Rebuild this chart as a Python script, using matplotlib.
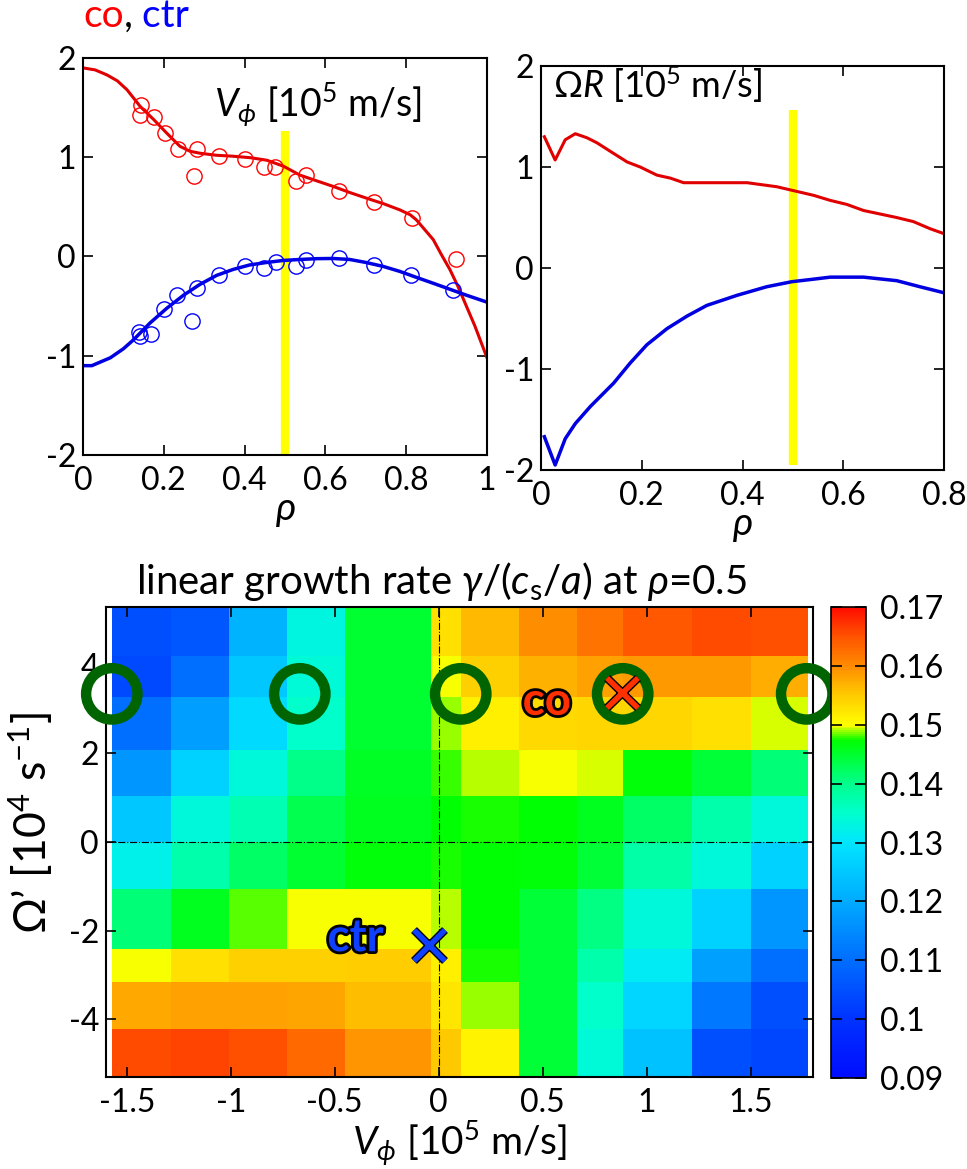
import numpy as np
import matplotlib
matplotlib.use('Agg')
from matplotlib import pyplot as plt
from matplotlib.colors import LinearSegmentedColormap
import matplotlib.patheffects as pe

plt.rcParams['font.family'] = ['Lato', 'DejaVu Sans']
plt.rcParams['mathtext.fontset'] = 'custom'
plt.rcParams['mathtext.rm'] = 'Lato'
plt.rcParams['mathtext.it'] = 'Lato:italic'
plt.rcParams['mathtext.bf'] = 'Lato:bold'

# ---- top left: measured V_phi and fits
co_rho = [0.143, 0.142, 0.175, 0.203, 0.234, 0.282, 0.276, 0.336, 0.401, 0.448,
          0.475, 0.527, 0.552, 0.633, 0.720, 0.815, 0.923]
co_v = [1.53, 1.43, 1.41, 1.24, 1.08, 1.08, 0.81, 1.01, 0.98, 0.90,
        0.90, 0.76, 0.82, 0.66, 0.55, 0.39, -0.03]
ctr_rho = [0.138, 0.142, 0.168, 0.201, 0.232, 0.282, 0.269, 0.336, 0.401, 0.449,
           0.477, 0.527, 0.552, 0.633, 0.720, 0.813, 0.916]
ctr_v = [-0.76, -0.80, -0.78, -0.53, -0.39, -0.32, -0.65, -0.19, -0.10, -0.12,
         -0.06, -0.10, -0.04, -0.02, -0.09, -0.19, -0.34]

co_fit_rho = [0.0, 0.03, 0.059, 0.085, 0.109, 0.142, 0.175, 0.208, 0.24, 0.265, 0.29,
              0.33, 0.372, 0.415, 0.455, 0.496, 0.537, 0.58, 0.62, 0.66, 0.70, 0.745,
              0.784, 0.81, 0.825, 0.846, 0.867, 0.887, 0.908, 0.928, 0.949, 0.97, 1.0]
co_fit_v = [1.90, 1.88, 1.83, 1.77, 1.68, 1.51, 1.38, 1.24, 1.11, 1.06, 1.04,
            1.02, 1.01, 0.995, 0.97, 0.91, 0.82, 0.76, 0.705, 0.645, 0.59, 0.53,
            0.47, 0.42, 0.37, 0.27, 0.17, 0.02, -0.13, -0.30, -0.50, -0.70, -1.02]
ctr_fit_rho = [0.0, 0.022, 0.068, 0.1, 0.125, 0.166, 0.208, 0.249, 0.29, 0.331, 0.372,
               0.413, 0.455, 0.496, 0.537, 0.58, 0.619, 0.66, 0.70, 0.743, 0.784,
               0.825, 0.867, 0.908, 0.949, 1.0]
ctr_fit_v = [-1.10, -1.10, -1.02, -0.93, -0.84, -0.67, -0.52, -0.39, -0.28, -0.19, -0.13,
             -0.085, -0.06, -0.04, -0.03, -0.022, -0.02, -0.03, -0.06, -0.10, -0.15,
             -0.21, -0.27, -0.33, -0.39, -0.46]

# ---- top right: Omega R profiles
omr_rho = [0.0066, 0.028, 0.048, 0.068, 0.091, 0.111, 0.144, 0.171, 0.197, 0.23, 0.257,
           0.283, 0.342, 0.409, 0.468, 0.498, 0.541, 0.574, 0.607, 0.64, 0.673, 0.706,
           0.739, 0.772, 0.80]
omr_co = [1.30, 1.07, 1.27, 1.33, 1.29, 1.24, 1.135, 1.05, 1.00, 0.92, 0.89,
          0.845, 0.845, 0.845, 0.805, 0.77, 0.72, 0.67, 0.63, 0.57, 0.535, 0.50,
          0.46, 0.39, 0.34]
omr_rho_ctr = [0.0066, 0.028, 0.048, 0.068, 0.098, 0.144, 0.177, 0.21, 0.25, 0.29, 0.329,
               0.389, 0.448, 0.498, 0.541, 0.574, 0.64, 0.706, 0.752, 0.80]
omr_ctr = [-1.67, -1.95, -1.69, -1.54, -1.37, -1.14, -0.94, -0.76, -0.60, -0.475, -0.37,
           -0.27, -0.185, -0.135, -0.11, -0.09, -0.09, -0.125, -0.185, -0.245]

rho_ref = 0.5

# ---- growth rate scan
vphi_edges = [-1.572, -1.288, -1.01, -0.73, -0.452, -0.038, 0.106, 0.385, 0.663,
              0.885, 1.22, 1.50, 1.774]
omega_edges = [5.28, 4.20, 3.27, 2.08, 1.04, 0.0, -1.06, -2.42, -3.16, -4.22, -5.28]
growth = np.array([
    [0.1050, 0.1060, 0.1215, 0.1330, 0.1450, 0.1530, 0.1565, 0.1600, 0.1620, 0.1645, 0.1656, 0.1650],
    [0.1040, 0.1100, 0.1250, 0.1340, 0.1450, 0.1500, 0.1545, 0.1570, 0.1584, 0.1590, 0.1588, 0.1573],
    [0.1100, 0.1180, 0.1280, 0.1350, 0.1450, 0.1489, 0.1515, 0.1535, 0.1540, 0.1540, 0.1530, 0.1495],
    [0.1166, 0.1266, 0.1335, 0.1400, 0.1455, 0.1479, 0.1491, 0.1500, 0.1496, 0.1469, 0.1445, 0.1410],
    [0.1249, 0.1335, 0.1370, 0.1432, 0.1457, 0.1475, 0.1478, 0.1475, 0.1457, 0.1420, 0.1375, 0.1335],
    [0.1320, 0.1375, 0.1420, 0.1450, 0.1469, 0.1478, 0.1475, 0.1469, 0.1445, 0.1380, 0.1335, 0.1266],
    [0.1410, 0.1457, 0.1484, 0.1500, 0.1500, 0.1492, 0.1475, 0.1445, 0.1405, 0.1335, 0.1266, 0.1166],
    [0.1500, 0.1530, 0.1545, 0.1545, 0.1550, 0.1515, 0.1477, 0.1445, 0.1375, 0.1310, 0.1182, 0.1100],
    [0.1577, 0.1584, 0.1584, 0.1580, 0.1560, 0.1525, 0.1489, 0.1445, 0.1350, 0.1274, 0.1116, 0.1050],
    [0.1656, 0.1660, 0.1650, 0.1631, 0.1592, 0.1553, 0.1510, 0.1445, 0.1340, 0.1240, 0.1050, 0.1032],
])
exp_vphi = [-1.572, -0.668, 0.106, 0.885, 1.77]
exp_omega = [3.34, 3.34, 3.34, 3.34, 3.34]
co_point = (0.885, 3.36)
ctr_point = (-0.043, -2.33)
cbar_ticks = [0.09, 0.10, 0.11, 0.12, 0.13, 0.14, 0.15, 0.16, 0.17]
cbar_labels = ['0.09', '0.1', '0.11', '0.12', '0.13', '0.14', '0.15', '0.16', '0.17']

vmin, vmax = 0.09, 0.17
nodes = [(0.09, (0, 0.05, 1)), (0.10, (0, 0.2, 1)), (0.11, (0, 0.43, 1)),
         (0.12, (0, 0.67, 1)), (0.13, (0, 0.9, 1)), (0.135, (0, 1, 0.8)),
         (0.14, (0, 1, 0.55)), (0.1475, (0, 1, 0)), (0.15, (1, 1, 0)),
         (0.155, (1, 0.8, 0)), (0.16, (1, 0.55, 0)), (0.165, (1, 0.33, 0)),
         (0.17, (1, 0.05, 0))]
cmap = LinearSegmentedColormap.from_list(
    'gr', [((v - vmin) / (vmax - vmin), c) for v, c in nodes])

RED = '#e00000'
BLUE = '#0000e0'
YEL = '#ffff00'

fig = plt.figure(figsize=(9.67, 11.69), dpi=100)


def style(ax, size=23):
    ax.tick_params(direction='in', top=True, right=True, length=7, width=1.2,
                   labelsize=size)
    ax.tick_params(axis='x', pad=8)
    ax.tick_params(axis='y', pad=5)
    for s in ax.spines.values():
        s.set_linewidth(1.5)


ax1 = fig.add_axes([0.0858, 0.6108, 0.4178, 0.3396])
ax1.plot([rho_ref, rho_ref], [-2, 1.265], color=YEL, lw=6, solid_capstyle='butt', zorder=1)
ax1.plot(co_fit_rho, co_fit_v, color=RED, lw=2.2, zorder=2)
ax1.plot(ctr_fit_rho, ctr_fit_v, color=BLUE, lw=2.5, zorder=2)
ax1.plot(co_rho, co_v, 'o', mfc='none', mec='red', ms=11, mew=1.0, zorder=3)
ax1.plot(ctr_rho, ctr_v, 'o', mfc='none', mec='blue', ms=11, mew=1.0, zorder=3)
ax1.set_xlim(0, 1)
ax1.set_ylim(-2, 2)
ax1.set_xticks([0, 0.2, 0.4, 0.6, 0.8, 1])
ax1.set_xticklabels(['0', '0.2', '0.4', '0.6', '0.8', '1'])
ax1.set_yticks([-2, -1, 0, 1, 2])
ax1.set_yticklabels(['-2', '-1', '0', '1', '2'])
style(ax1)
ax1.set_xlabel(r'$\rho$', fontsize=28, labelpad=-2)
ax1.text(0.325, 1.53, r'$V_\phi$ [10$^5$ m/s]', fontsize=27, va='center', ha='left')
t1 = ax1.text(0.0, 1.06, 'co', color='red', fontsize=28, transform=ax1.transAxes,
              va='bottom', ha='left')
t2 = ax1.annotate(',', xy=(1, 0), xycoords=t1, color='black', fontsize=28,
                  va='bottom', ha='left')
ax1.annotate(' ctr', xy=(1, 0), xycoords=t2, color='blue', fontsize=28,
             va='bottom', ha='left')

ax2 = fig.add_axes([0.5595, 0.5979, 0.4168, 0.3456])
ax2.plot([rho_ref, rho_ref], [-1.95, 1.565], color=YEL, lw=6, solid_capstyle='butt', zorder=1)
ax2.plot(omr_rho, omr_co, color=RED, lw=2.2, zorder=2)
ax2.plot(omr_rho_ctr, omr_ctr, color=BLUE, lw=2.5, zorder=2)
ax2.set_xlim(0, 0.8)
ax2.set_ylim(-2, 2)
ax2.set_xticks([0, 0.2, 0.4, 0.6, 0.8])
ax2.set_xticklabels(['0', '0.2', '0.4', '0.6', '0.8'])
ax2.set_yticks([-2, -1, 0, 1, 2])
ax2.set_yticklabels(['-2', '-1', '0', '1', '2'])
style(ax2)
ax2.set_xlabel(r'$\rho$', fontsize=28, labelpad=-2)
ax2.text(0.024, 1.81, r'$\Omega R$ [10$^5$ m/s]', fontsize=26, va='center', ha='left')

ax3 = fig.add_axes([0.1096, 0.0787, 0.7311, 0.4021])
mesh = ax3.pcolormesh(vphi_edges, omega_edges, growth, cmap=cmap, vmin=vmin, vmax=vmax)
ax3.axvline(0, color='k', lw=0.8, ls='-.')
ax3.axhline(0, color='k', lw=0.8, ls='-.')
ax3.set_xlim(-1.6, 1.8)
ax3.set_ylim(-5.3, 5.3)
ax3.set_xticks([-1.5, -1, -0.5, 0, 0.5, 1, 1.5])
ax3.set_xticklabels(['-1.5', '-1', '-0.5', '0', '0.5', '1', '1.5'])
ax3.set_yticks([-4, -2, 0, 2, 4])
ax3.set_yticklabels(['-4', '-2', '0', '2', '4'])
style(ax3)
ax3.set_title(r'linear growth rate $\gamma$/($c_\mathrm{s}$/$a$) at $\rho$=0.5',
              fontsize=29, pad=9, x=0.475)
ax3.set_xlabel(r'$V_\phi$ [10$^5$ m/s]', fontsize=28, labelpad=0)
ax3.set_ylabel('Ω’ [10$^4$ s$^{-1}$]', fontsize=32)
ax3.yaxis.set_label_coords(-0.072, 0.54)
ax3.scatter(exp_vphi, exp_omega, s=37 ** 2, facecolors='none', edgecolors='#006400',
            linewidths=7.5, clip_on=False, zorder=5)
stroke = [pe.withStroke(linewidth=6, foreground='black')]
ax3.plot(*co_point, 'x', ms=22, mew=4, color='#ff3000', path_effects=stroke, zorder=6)
ax3.plot(*ctr_point, 'x', ms=22, mew=4, color='#1040ff', path_effects=stroke, zorder=6)
ax3.text(0.52, 3.16, 'co', fontsize=33, fontweight='bold', color='#ff3000',
         ha='center', va='center', zorder=6,
         path_effects=[pe.withStroke(linewidth=4, foreground='black')])
ax3.text(-0.40, -2.17, 'ctr', fontsize=33, fontweight='bold', color='#1040ff',
         ha='center', va='center', zorder=6,
         path_effects=[pe.withStroke(linewidth=4, foreground='black')])

cax = fig.add_axes([0.8594, 0.0778, 0.0362, 0.4029])
cb = fig.colorbar(mesh, cax=cax)
cb.set_ticks(cbar_ticks)
cb.set_ticklabels(cbar_labels)
cax.tick_params(direction='in', left=True, right=True, length=8, width=1.2,
                labelsize=23, pad=10)
cb.outline.set_linewidth(1.2)

fig.savefig('out.png', dpi=100)
